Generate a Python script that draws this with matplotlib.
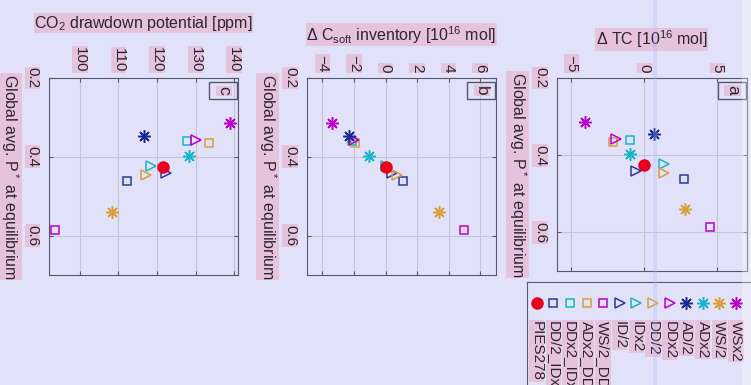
import numpy as np
import matplotlib.pyplot as plt
from matplotlib.patches import Rectangle

plt.rcParams['font.family'] = ['Liberation Sans', 'DejaVu Sans']
plt.rcParams['mathtext.default'] = 'regular'

# run names, in legend order
runs = ['PIES278', 'DD/2_IDx2', 'DDx2_IDx2', 'ADx2_DDx2', 'WS/2_DD/2',
        'ID/2', 'IDx2', 'DD/2', 'DDx2', 'AD/2', 'ADx2', 'WS/2', 'WSx2']
markers = ['o', 's', 's', 's', 's', '>', '>', '>', '>',
           (8, 2, 0), (8, 2, 0), (8, 2, 0), (8, 2, 0)]
colors = ['#e8001e', '#2a3a9c', '#1ab4c8', '#d99f38', '#b800cc',
          '#2a3a9c', '#1ab4c8', '#d99f38', '#b800cc',
          '#1a2898', '#1ab4c8', '#d99f38', '#b800cc']

# global average P* at equilibrium
pstar = [0.426, 0.462, 0.360, 0.366, 0.585, 0.440, 0.424, 0.447, 0.357,
         0.346, 0.397, 0.539, 0.315]
# change in total carbon [1e16 mol]
d_tc = [0.0, 2.74, -0.96, -2.15, 4.52, -0.57, 1.37, 1.32, -1.94,
        0.68, -0.96, 2.79, -4.04]
# change in soft-tissue carbon inventory [1e16 mol]
d_csoft = [0.0, 1.1, -2.14, -1.93, 5.0, 0.4, 0.05, 0.7, -2.0,
           -2.29, -1.04, 3.38, -3.4]
# CO2 drawdown potential [ppm]
co2_draw = [121.6, 112.1, 127.9, 133.4, 93.5, 122.3, 118.4, 117.1, 130.1,
            116.6, 128.2, 108.3, 138.8]

W, H = 751, 385
bg = '#e1e1fa'
hl = dict(facecolor='#e5c3dc', edgecolor='none', pad=0.5)
txt = '#2e2434'

fig = plt.figure(figsize=(W / 100, H / 100), dpi=100, facecolor=bg)


def px_axes(x0, y0, x1, y1):
    return fig.add_axes([x0 / W, 1 - y1 / H, (x1 - x0) / W, (y1 - y0) / H])


def msize(m):
    if m == 'o':
        return 8
    if m == 's':
        return 6
    if m == '>':
        return 7.5
    return 9


def draw_marker(ax, x, y, i, z):
    m = markers[i]
    if m == 'o':
        ax.plot(x, y, 'o', color=colors[i], ms=msize(m), zorder=z + 1)
    else:
        ax.plot(x, y, linestyle='none', marker=m, ms=msize(m),
                mfc='none', mec=colors[i], mew=1.1, zorder=z)


def panel(ax, xdata, xlim, xticks, xlabel, label_y, letter):
    ax.set_facecolor(bg)
    # control run on top of the others
    for i in list(range(1, len(runs))) + [0]:
        draw_marker(ax, xdata[i], pstar[i], i, 4)
    ax.set_xlim(xlim)
    ax.set_ylim(0.7, 0.2)
    ax.set_xticks(xticks)
    ax.set_yticks([0.2, 0.4, 0.6])
    ax.set_yticklabels(['0.2', '0.4', '0.6'])
    ax.grid(True, color='#c4c4d8', lw=0.8)
    ax.set_axisbelow(True)
    for s in ax.spines.values():
        s.set_color('#58586a')
        s.set_linewidth(0.8)
    ax.tick_params(direction='in', length=3, color='#58586a', top=True,
                   right=True, bottom=True, left=True, labeltop=True,
                   labelbottom=False, labelsize=11, labelcolor=txt)
    ax.tick_params(axis='x', pad=4)
    ax.tick_params(axis='y', pad=7)
    for t in ax.get_xticklabels():
        t.set_rotation(-90)
        t.set_va('bottom')
        t.set_ha('center')
        t.set_bbox(hl)
    for t in ax.get_yticklabels():
        t.set_rotation(-90)
        t.set_va('center')
        t.set_ha('right')
        t.set_bbox(hl)
    ax.xaxis.set_label_position('top')
    ax.set_xlabel(xlabel, fontsize=11.5, color=txt, bbox=hl)
    ax.xaxis.set_label_coords(0.5, label_y)
    ax.set_ylabel('Global avg. P$^*$ at equilibrium', fontsize=11.5,
                  color=txt, rotation=-90, bbox=hl, va='center')
    ax.yaxis.set_label_coords(-0.205, 0.5)
    ax.add_patch(Rectangle((0.847, 0.892), 0.147, 0.088, transform=ax.transAxes,
                           fill=False, edgecolor='#58586a', lw=1.0, zorder=6))
    ax.text(0.925, 0.936, letter, transform=ax.transAxes, rotation=-90,
            ha='center', va='center', fontsize=12.5, color=txt, bbox=hl, zorder=7)


ax_c = px_axes(49, 78, 238, 275)
panel(ax_c, co2_draw, (92, 141), [100, 110, 120, 130, 140],
      'CO$_2$ drawdown potential [ppm]', 1.255, 'c')

ax_b = px_axes(306.7, 78, 496, 275)
panel(ax_b, d_csoft, (-5, 7), [-4, -2, 0, 2, 4, 6],
      '$\\Delta$ C$_{soft}$ inventory [10$^{16}$ mol]', 1.19, 'b')

ax_a = px_axes(556.7, 78, 746.7, 271)
panel(ax_a, d_tc, (-6, 7), [-5, 0, 5],
      '$\\Delta$ TC [10$^{16}$ mol]', 1.17, 'a')

# legend: one row of markers with rotated run names beneath
ax_l = px_axes(526.7, 282, 770, 400)
ax_l.set_facecolor(bg)
ax_l.set_xlim(0, 243.3)
ax_l.set_ylim(118, 0)
ax_l.set_xticks([])
ax_l.set_yticks([])
for s in ax_l.spines.values():
    s.set_color('#58586a')
    s.set_linewidth(0.8)
xs = 10 + 16.6 * np.arange(len(runs))
for i, name in enumerate(runs):
    draw_marker(ax_l, xs[i], 21, i, 3)
    ax_l.text(xs[i], 39, name, rotation=-90, ha='center', va='top',
              fontsize=11, color=txt, bbox=hl)

# faint stripe and lighter right margin
fig.patches.append(Rectangle((653 / W, 0), 4 / W, 1, transform=fig.transFigure,
                             facecolor='#b8b8f0', alpha=0.3, edgecolor='none',
                             zorder=20))
fig.patches.append(Rectangle((742 / W, 0), 9 / W, 1, transform=fig.transFigure,
                             facecolor='white', alpha=0.3, edgecolor='none',
                             zorder=20))

fig.savefig('out.png', dpi=100, facecolor=bg)
